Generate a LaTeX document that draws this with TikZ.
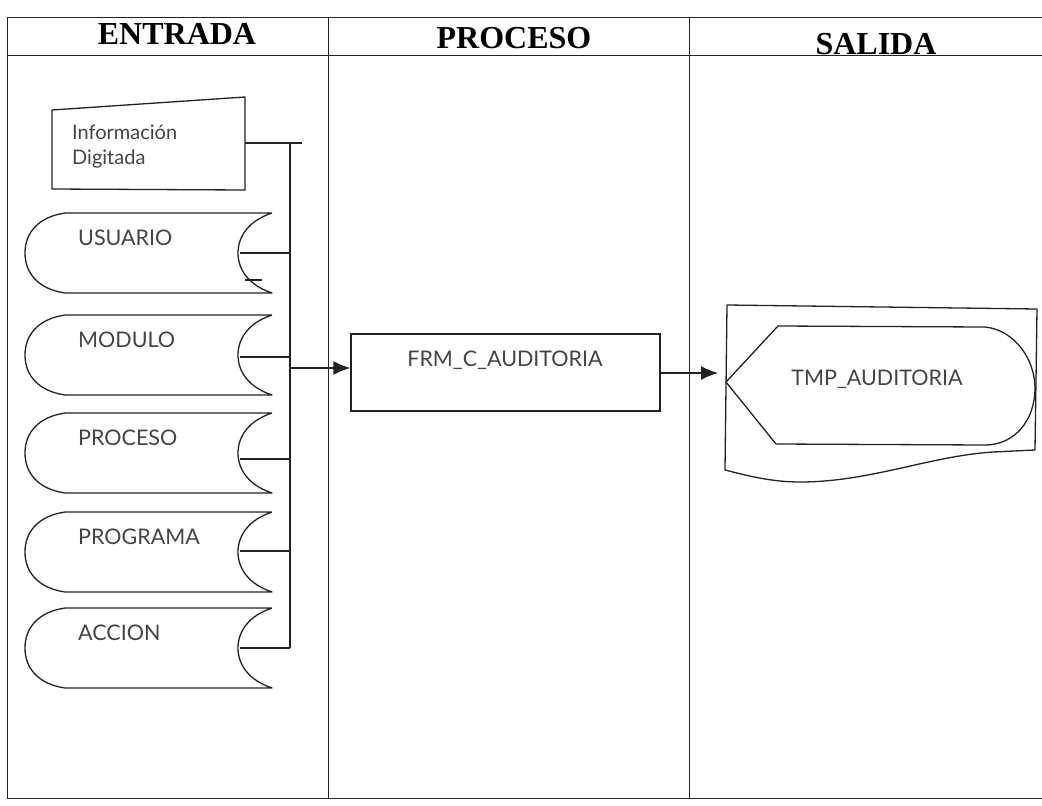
\documentclass[tikz,border=0pt]{standalone}
\usepackage{fontspec}
\setmainfont{Liberation Serif}
\newfontfamily\lblfont{Lato}
\usetikzlibrary{arrows.meta,calc}
\definecolor{ink}{HTML}{222222}
\definecolor{txt}{HTML}{444444}
\tikzset{
  tbl/.style={draw=ink, line width=0.8pt},
  ln/.style={draw=ink, line width=1.3pt, line join=round},
  conn/.style={draw=ink, line width=1.1pt},
  arr/.style={conn, -{Latex[length=17pt,width=14pt]}},
  hdr/.style={font=\bfseries\fontsize{32}{34}\selectfont, text=black, inner sep=0pt},
  lbl/.style={font=\lblfont\fontsize{21.5}{24}\selectfont, text=txt, inner sep=0pt},
}
\newcommand\dbshape[4]{% name, top, label, connector y
  \draw[ln] (272,#2) -- (65,#2)
    .. controls (38,{#2+4}) and (25,{#2+20}) .. (25,{#2+40})
    .. controls (25,{#2+60}) and (38,{#2+76}) .. (65,{#2+80})
    -- (272,{#2+80})
    .. controls (248,{#2+72}) and (238,{#2+56}) .. (238,{#2+40})
    .. controls (238,{#2+24}) and (248,{#2+8}) .. (272,#2);
  \node[lbl, anchor=west] (#1) at (78,{#2+25}) {#3};
  \coordinate (#1-p) at (240,#4);
  \coordinate (#1-b) at (290,#4);
  \draw[conn] (#1-p) -- (#1-b);
}
\begin{document}
\begin{tikzpicture}[x=1pt,y=-1pt]
\useasboundingbox (0,0) rectangle (1042,806);
% table
\draw[tbl] (1042,17) -- (7,17) -- (7,798) -- (1042,798);
\draw[tbl] (7,55) -- (1042,55);
\draw[tbl] (328,17) -- (328,798);
\draw[tbl] (689,17) -- (689,798);
\node[hdr] (hE) at (177,34) {ENTRADA};
\node[hdr] (hP) at (514,38) {PROCESO};
\node[hdr] (hS) at (876,44) {SALIDA};
% manual input
\draw[ln] (52,110) -- (245,97) -- (245,190) -- (52,189) -- cycle;
\node[lbl, font=\lblfont\fontsize{20}{25}\selectfont, align=left, anchor=north west] (info) at (72,125) {Información\\Digitada};
\coordinate (info-p) at (245,143);
\coordinate (info-e) at (302,143);
\draw[conn] (info-p) -- (info-e);
% stores
\dbshape{usuario}{213}{USUARIO}{253}
\dbshape{modulo}{315}{MODULO}{357}
\dbshape{proceso}{413}{PROCESO}{459}
\dbshape{programa}{512}{PROGRAMA}{551}
\dbshape{accion}{608}{ACCION}{648}
\coordinate (stub-a) at (245,280);
\coordinate (stub-b) at (262,280);
\draw[conn] (stub-a) -- (stub-b);
% bus
\coordinate (bus-t) at (290,143);
\draw[conn] (bus-t) -- (accion-b);
\coordinate (bus-o) at (290,368);
% process
\node[draw=ink, line width=1.3pt, minimum width=309pt, minimum height=77pt, inner sep=0pt] (frm) at (505.5,372.5) {};
\node[lbl] (frmlbl) at (505,360) {FRM\_C\_AUDITORIA};
\draw[arr] (bus-o) -- (bus-o -| frm.west);
% output
\draw[ln] (727,305) -- (1037,309) -- (1035,450) -- (993,452)
  .. controls (930,456) and (870,482) .. (800,482)
  .. controls (770,482) and (745,475) .. (725,470) -- cycle;
\draw[ln] (726,382) -- (778,326) -- (985,327)
  .. controls (1015,330) and (1035,360) .. (1035,388)
  .. controls (1035,420) and (1015,445) .. (985,445) -- (776,444) -- cycle;
\node[lbl] (tmp) at (877,379) {TMP\_AUDITORIA};
\coordinate (tmp-in) at (718,373);
\draw[arr] (frm.east |- tmp-in) -- (tmp-in);
\end{tikzpicture}
\end{document}
